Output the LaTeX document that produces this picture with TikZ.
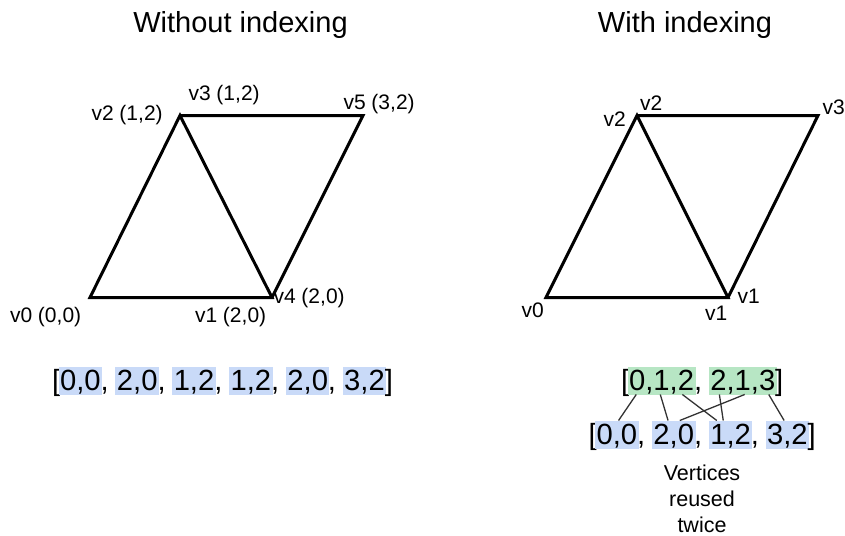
\documentclass[tikz,border=0pt]{standalone}
\usepackage{fontspec}
\setmainfont{Liberation Sans}
\usetikzlibrary{calc}
\definecolor{hlblue}{HTML}{C9DAF8}
\definecolor{hlgreen}{HTML}{B7E6C4}
\definecolor{conn}{HTML}{333333}
\newcommand{\sepc}{,\kern0.278em}
\begin{document}
\begin{tikzpicture}[x=1pt,y=-1pt,
  title/.style={inner sep=0pt,outer sep=0pt,font=\fontsize{29}{34}\selectfont,anchor=base},
  lbl/.style={inner sep=0pt,outer sep=0pt,font=\fontsize{21}{25}\selectfont,anchor=base west},
  lst/.style={inner sep=0pt,outer sep=0pt,font=\fontsize{29.2}{35}\selectfont,anchor=base west},
  hl/.style={lst,inner xsep=1.5pt,outer xsep=-1.5pt,inner ysep=0pt,text height=23.5pt,text depth=4.5pt},
  hlb/.style={hl,fill=hlblue},
  hlg/.style={hl,fill=hlgreen},
  edge/.style={line width=3pt,black},
  link/.style={line width=1.3pt,conn},
  note/.style={inner sep=0pt,outer sep=0pt,font=\fontsize{21.5}{26}\selectfont,anchor=base}]
\useasboundingbox (0,0) rectangle (845,535);
\fill[white] (0,0) rectangle (845,535);

% titles
\node[title] (t1) at (240.5,33) {Without indexing};
\node[title] (t2) at (685,33) {With indexing};

% left mesh
\coordinate (a0) at (90,297.5);
\coordinate (a1) at (272,297.5);
\coordinate (a2) at (180,115.5);
\coordinate (a5) at (363,115.5);
\draw[edge] (a0) -- (a1) -- (a2) -- cycle;
\draw[edge] (a2) -- (a5) -- (a1);
\node[lbl] (la0) at (10,322) {v0 (0,0)};
\node[lbl] (la1) at (195,322) {v1 (2,0)};
\node[lbl] (la4) at (273.5,303) {v4 (2,0)};
\node[lbl] (la2) at (91.5,120) {v2 (1,2)};
\node[lbl] (la3) at (188.5,100) {v3 (1,2)};
\node[lbl] (la5) at (343.5,109) {v5 (3,2)};

% right mesh
\coordinate (b0) at (546,297.5);
\coordinate (b1) at (728,297.5);
\coordinate (b2) at (637,115.5);
\coordinate (b3) at (818,115.5);
\draw[edge] (b0) -- (b1) -- (b2) -- cycle;
\draw[edge] (b2) -- (b3) -- (b1);
\node[lbl] (lb0) at (521.5,317) {v0};
\node[lbl] (lb1) at (705,320) {v1};
\node[lbl] (lb1r) at (737.5,303) {v1};
\node[lbl] (lb2) at (603.5,126) {v2};
\node[lbl] (lb2t) at (640,110) {v2};
\node[lbl] (lb3) at (822.5,114) {v3};

% left list
\node[lst] (LB) at (52,390.5) {[};
\node[hlb] (L1) at (LB.base east) {0,0};
\node[lst] (LC1) at (L1.base east) {\sepc};
\node[hlb] (L2) at (LC1.base east) {2,0};
\node[lst] (LC2) at (L2.base east) {\sepc};
\node[hlb] (L3) at (LC2.base east) {1,2};
\node[lst] (LC3) at (L3.base east) {\sepc};
\node[hlb] (L4) at (LC3.base east) {1,2};
\node[lst] (LC4) at (L4.base east) {\sepc};
\node[hlb] (L5) at (LC4.base east) {2,0};
\node[lst] (LC5) at (L5.base east) {\sepc};
\node[hlb] (L6) at (LC5.base east) {3,2};
\node[lst] (LE) at (L6.base east) {]};

% right index list
\node[lst] (UB) at (621,390) {[};
\node[hlg] (U1) at (UB.base east) {0,1,2};
\node[lst] (UC1) at (U1.base east) {\sepc};
\node[hlg] (U2) at (UC1.base east) {2,1,3};
\node[lst] (UE) at (U2.base east) {]};

% right vertex list
\node[lst] (WB) at (588.5,444) {[};
\node[hlb] (W1) at (WB.base east) {0,0};
\node[lst] (WC1) at (W1.base east) {\sepc};
\node[hlb] (W2) at (WC1.base east) {2,0};
\node[lst] (WC2) at (W2.base east) {\sepc};
\node[hlb] (W3) at (WC2.base east) {1,2};
\node[lst] (WC3) at (W3.base east) {\sepc};
\node[hlb] (W4) at (WC3.base east) {3,2};
\node[lst] (WE) at (W4.base east) {]};

% index links
\draw[link] ($(U1.south west)!0.11!(U1.south east)$) -- ($(W1.north west)!0.54!(W1.north east)$);
\draw[link] ($(U1.south west)!0.48!(U1.south east)$) -- ($(W2.north west)!0.36!(W2.north east)$);
\draw[link] ($(U1.south west)!0.82!(U1.south east)$) -- ($(W3.north west)!0.16!(W3.north east)$);
\draw[link] ($(U2.south west)!0.53!(U2.south east)$) -- ($(W2.north west)!0.65!(W2.north east)$);
\draw[link] ($(U2.south west)!0.14!(U2.south east)$) -- ($(W3.north west)!0.32!(W3.north east)$);
\draw[link] ($(U2.south west)!0.90!(U2.south east)$) -- ($(W4.north west)!0.42!(W4.north east)$);

% note
\node[note] (n1) at (702,480) {Vertices};
\node[note] (n2) at (702,506.5) {reused};
\node[note] (n3) at (702,532) {twice};
\end{tikzpicture}
\end{document}
